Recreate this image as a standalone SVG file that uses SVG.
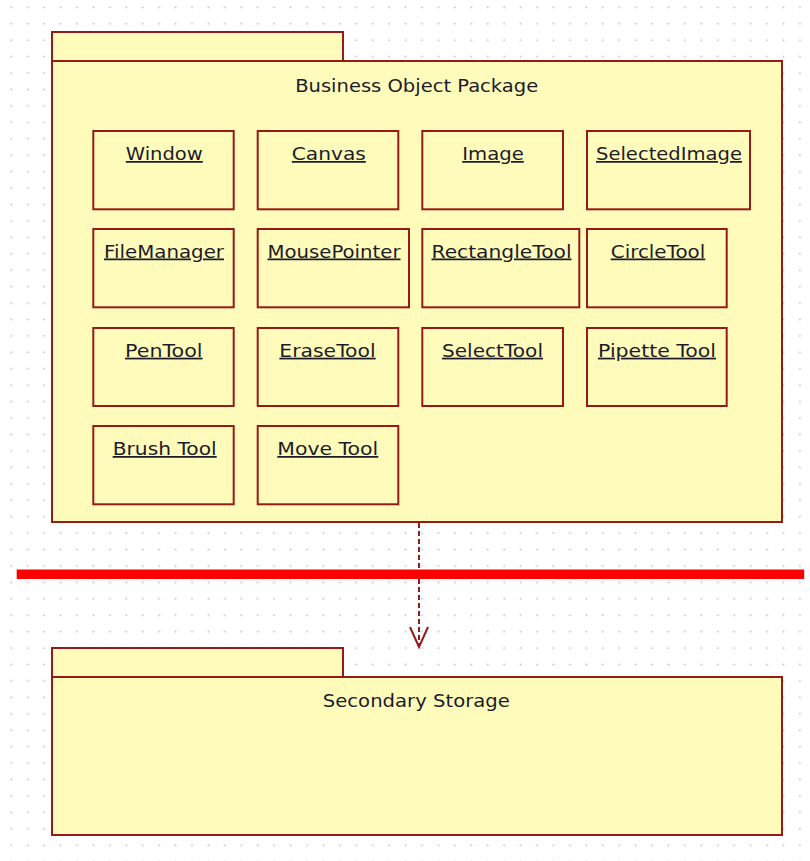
<svg xmlns="http://www.w3.org/2000/svg" width="810" height="861" viewBox="0 0 810 861">
<style>
.pkg{fill:#FFFBBA;stroke:#951B1B;stroke-width:2}
.cls{fill:#FFFBBA;stroke:#951B1B;stroke-width:2}
.lbl{font-family:"DejaVu Sans",Verdana,sans-serif;font-size:17.5px;fill:#1c1c28;text-anchor:middle;text-decoration:underline}
.ttl{font-family:"DejaVu Sans",Verdana,sans-serif;font-size:18px;fill:#1c1c28;text-anchor:middle}
.dep{fill:none;stroke:#951B1B;stroke-width:2}
</style>
<defs>
<pattern id="grid" x="3.1" y="-0.9" width="16.43" height="16.43" patternUnits="userSpaceOnUse">
<circle cx="8.2" cy="8.2" r="1" fill="#c4c4c4"/>
</pattern>
</defs>
<rect width="810" height="861" fill="#ffffff"/>
<rect width="810" height="861" fill="url(#grid)"/>

<g id="pkg-business">
<rect class="pkg" x="52" y="32" width="291" height="29"/>
<rect class="pkg" x="52" y="61" width="730" height="461"/>
<text class="ttl" x="416.7" y="92" textLength="243" lengthAdjust="spacingAndGlyphs">Business Object Package</text>
</g>

<g id="node-window"><rect class="cls" x="93.3" y="131" width="140.4" height="78.3"/><text class="lbl" x="164.3" y="160" textLength="77" lengthAdjust="spacingAndGlyphs">Window</text></g>
<g id="node-canvas"><rect class="cls" x="257.7" y="131" width="140.6" height="78.3"/><text class="lbl" x="328.8" y="160" textLength="74" lengthAdjust="spacingAndGlyphs">Canvas</text></g>
<g id="node-image"><rect class="cls" x="422.3" y="131" width="140.7" height="78.3"/><text class="lbl" x="493" y="160" textLength="61.5" lengthAdjust="spacingAndGlyphs">Image</text></g>
<g id="node-selectedimage"><rect class="cls" x="587" y="131" width="163" height="78.3"/><text class="lbl" x="669" y="160" textLength="146" lengthAdjust="spacingAndGlyphs">SelectedImage</text></g>

<g id="node-filemanager"><rect class="cls" x="93.3" y="229" width="140.4" height="78.3"/><text class="lbl" x="164" y="257.5" textLength="120" lengthAdjust="spacingAndGlyphs">FileManager</text></g>
<g id="node-mousepointer"><rect class="cls" x="257.7" y="229" width="151.3" height="78.3"/><text class="lbl" x="334" y="257.5" textLength="133" lengthAdjust="spacingAndGlyphs">MousePointer</text></g>
<g id="node-rectangletool"><rect class="cls" x="422.3" y="229" width="157" height="78.3"/><text class="lbl" x="501.5" y="257.5" textLength="140" lengthAdjust="spacingAndGlyphs">RectangleTool</text></g>
<g id="node-circletool"><rect class="cls" x="587" y="229" width="139.7" height="78.3"/><text class="lbl" x="658" y="257.5" textLength="94.5" lengthAdjust="spacingAndGlyphs">CircleTool</text></g>

<g id="node-pentool"><rect class="cls" x="93.3" y="328" width="140.4" height="78"/><text class="lbl" x="163.8" y="356.7" textLength="77.5" lengthAdjust="spacingAndGlyphs">PenTool</text></g>
<g id="node-erasetool"><rect class="cls" x="257.7" y="328" width="140.6" height="78"/><text class="lbl" x="327.5" y="356.7" textLength="96.3" lengthAdjust="spacingAndGlyphs">EraseTool</text></g>
<g id="node-selecttool"><rect class="cls" x="422.3" y="328" width="140.7" height="78"/><text class="lbl" x="492.5" y="356.7" textLength="101" lengthAdjust="spacingAndGlyphs">SelectTool</text></g>
<g id="node-pipettetool"><rect class="cls" x="587" y="328" width="139.7" height="78"/><text class="lbl" x="657" y="356.7" textLength="118" lengthAdjust="spacingAndGlyphs">Pipette Tool</text></g>

<g id="node-brushtool"><rect class="cls" x="93.3" y="426" width="140.4" height="78.3"/><text class="lbl" x="164.7" y="455" textLength="104" lengthAdjust="spacingAndGlyphs">Brush Tool</text></g>
<g id="node-movetool"><rect class="cls" x="257.7" y="426" width="140.6" height="78.3"/><text class="lbl" x="327.8" y="455" textLength="101" lengthAdjust="spacingAndGlyphs">Move Tool</text></g>

<g id="pkg-storage">
<rect class="pkg" x="52" y="648" width="291" height="29"/>
<rect class="pkg" x="52" y="677" width="730" height="158"/>
<text class="ttl" x="416.3" y="707.3" textLength="187" lengthAdjust="spacingAndGlyphs">Secondary Storage</text>
</g>

<g id="connectors">
<line class="dep" x1="419" y1="523" x2="419" y2="646" stroke-dasharray="5,3"/>
<polyline class="dep" points="410,627 419,647 428,627" stroke-width="1.8"/>
</g>

<rect id="separator" x="16.7" y="569.5" width="787.5" height="9.5" fill="#ff0000"/>
</svg>
